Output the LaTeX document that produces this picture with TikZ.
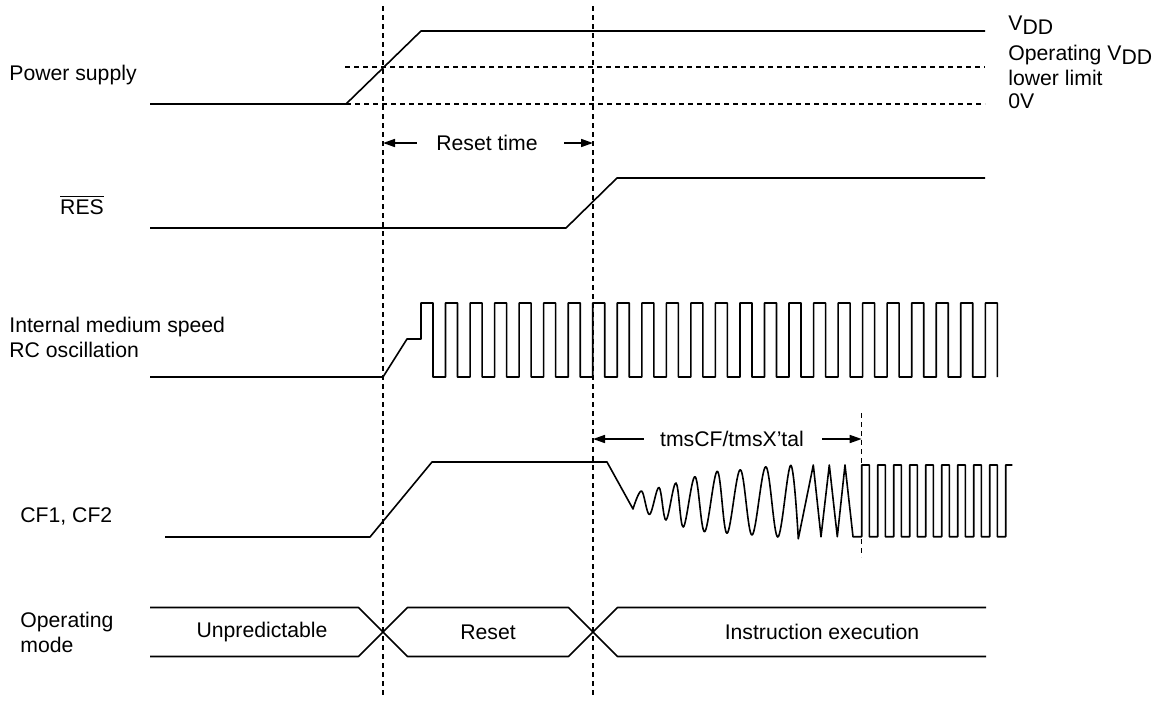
\documentclass[tikz,border=0pt]{standalone}
\usepackage{fontspec}
\setmainfont{Liberation Sans}
\usetikzlibrary{arrows.meta}

\tikzset{
  sig/.style={line width=0.8pt, line join=round},
  guide/.style={line width=0.55pt, dash pattern=on 2.5pt off 2pt},
  lbl/.style={inner sep=0pt, font=\fontsize{10.6}{12.5}\selectfont, align=left},
  span/.style={line width=0.8pt, -{Triangle[length=6pt,width=4pt]}}
}

\begin{document}
\begin{tikzpicture}[x=0.5pt,y=-0.5pt]
\useasboundingbox (0,0) rectangle (1163,702);

\coordinate (d1) at (383,0);
\coordinate (d2) at (593,0);
\coordinate (d3) at (861.7,0);

\draw[guide] (383,6) -- (383,697);
\draw[guide] (593,6) -- (593,697);
\draw[guide] (861.7,413) -- (861.7,557);

% power supply
\draw[guide] (345,67) -- (985,67);
\draw[guide] (346,104) -- (985,104);
\draw[sig] (150,104) -- (346,104) -- (421,31) -- (985,31);

\node[lbl,anchor=west] (lpower) at (9,75) {Power supply};
\node[lbl,anchor=west] (lvdd) at (1008,25) {V\raisebox{-0.2em}{DD}};
\node[lbl,anchor=west] (llimit) at (1008,65.5) {Operating V\raisebox{-0.2em}{DD}\\lower limit};
\node[lbl,anchor=west] (lzero) at (1008,101) {0V};

\node[lbl] (rtime) at (487,143) {Reset time};
\draw[span] (rtime.west) ++(-19,0) -- (rtime.west -| d1);
\draw[span] (rtime.east) ++(26,0) -- (rtime.east -| d2);

% RES
\node[lbl] (lres) at (82,205) {$\overline{\mbox{RES}}$};
\draw[sig] (150,228) -- (566,228) -- (617,178) -- (985,178);

% RC oscillation
\node[lbl,anchor=west] (lrc) at (9,337.5) {Internal medium speed\\RC oscillation};
\draw[sig] (150,377) -- (383,377) -- (407,339) -- (421,339) -- (421,303)
  \foreach \k in {0,...,22}{ -- ++(12,0) -- ++(0,74) -- ++(12.535,0) -- ++(0,-74) }
  -- ++(12,0) -- ++(0,74);

% CF1, CF2
\node[lbl,anchor=west] (lcf) at (20,516) {CF1, CF2};
\draw[sig] (165,537) -- (370,537) -- (432,462) -- (607,462)
  -- plot[smooth,tension=0.6] coordinates {(633,509) (641.5,491) (649.5,514.5)
     (659,487.5) (666,520) (676,483) (683.3,527) (695,476.7) (704.6,531.7)
     (717.3,471.3) (727,533.3) (740.3,469.7) (752,535) (765.8,466.7)
     (777.8,537) (790.8,465.3) (798.3,538.8)}
  -- (813.3,465) -- (821,536.7) -- (829.3,465) -- (837.3,536.7) -- (845,465)
  -- (853,536.7) -- (861.7,536.7) -- (861.7,465)
  \foreach \k in {0,...,8}{ -- ++(7.7,0) -- ++(0,71.7) -- ++(8.3,0) -- ++(0,-71.7) }
  -- ++(6.6,0);

\node[lbl] (tms) at (732,439) {tmsCF/tmsX’tal};
\draw[span] (tms.west) ++(-16,0) -- (tms.west -| d2);
\draw[span] (tms.east) ++(18,0) -- (tms.east -| d3);

% operating mode
\node[lbl,anchor=west] (lmode) at (20,632.5) {Operating\\mode};
\draw[sig] (150,607.5) -- (358.5,607.5) -- (407.5,656.5) -- (568.5,656.5) -- (617.5,607.5) -- (986,607.5);
\draw[sig] (150,656.5) -- (358.5,656.5) -- (407.5,607.5) -- (568.5,607.5) -- (617.5,656.5) -- (986,656.5);
\node[lbl] (munpred) at (262,632) {Unpredictable};
\node[lbl] (mreset) at (488,632) {Reset};
\node[lbl] (mexec) at (822,632) {Instruction execution};

\end{tikzpicture}
\end{document}
